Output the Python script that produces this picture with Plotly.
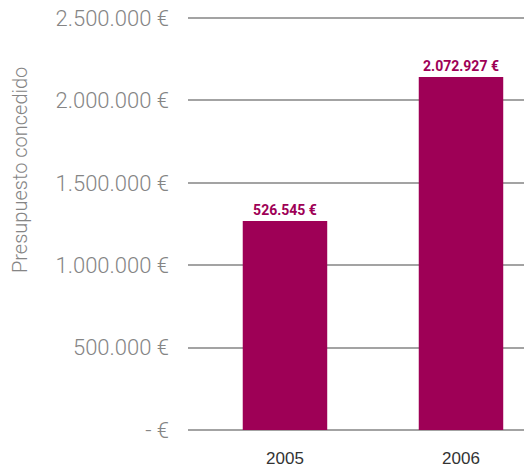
import plotly.graph_objects as go

years = ["2005", "2006"]
bar_values = [1268000, 2142000]
bar_labels = ["526.545 €", "2.072.927 €"]
y_tickvals = [0, 500000, 1000000, 1500000, 2000000, 2500000]
y_ticktext = ["- €", "500.000 €", "1.000.000 €", "1.500.000 €", "2.000.000 €", "2.500.000 €"]

bar_color = "#9e0056"
grid_color = "#a3a3a3"

fig = go.Figure(go.Bar(
    x=years, y=bar_values, text=bar_labels, textposition="outside",
    marker_color=bar_color, marker_line_width=0, width=0.48,
    textfont=dict(family="Roboto", size=14, color=bar_color, weight="bold"),
    cliponaxis=False,
))

fig.update_layout(
    width=524, height=468,
    margin=dict(l=188, r=0, t=15, b=38, autoexpand=False),
    paper_bgcolor="white", plot_bgcolor="white",
    showlegend=False,
    xaxis=dict(type="category", range=[-0.551, 1.358], showgrid=False, showline=False,
               zeroline=False, ticks="", ticklabelstandoff=16, automargin=False,
               tickfont=dict(family="Liberation Sans", size=17, color="#333333")),
    yaxis=dict(range=[0, 2518204], tickvals=y_tickvals, ticktext=y_ticktext,
               showgrid=True, gridcolor=grid_color, gridwidth=1.6,
               zeroline=True, zerolinecolor=grid_color, zerolinewidth=1.6,
               showline=False, ticks="", ticklabelstandoff=18, automargin=False,
               tickfont=dict(family="Roboto", size=22, color="#858585", weight=300)),
    annotations=[dict(text="Presupuesto concedido", xref="paper", yref="paper",
                      x=(20 - 188) / 336, y=(430 - 170) / 415, textangle=-90,
                      showarrow=False, xanchor="center", yanchor="middle",
                      font=dict(family="Roboto", size=20, color="#858585", weight=300))],
)

fig.write_html("out.html", config={"displayModeBar": False},
               post_script="document.body.style.margin='0';document.body.style.overflow='hidden';")
